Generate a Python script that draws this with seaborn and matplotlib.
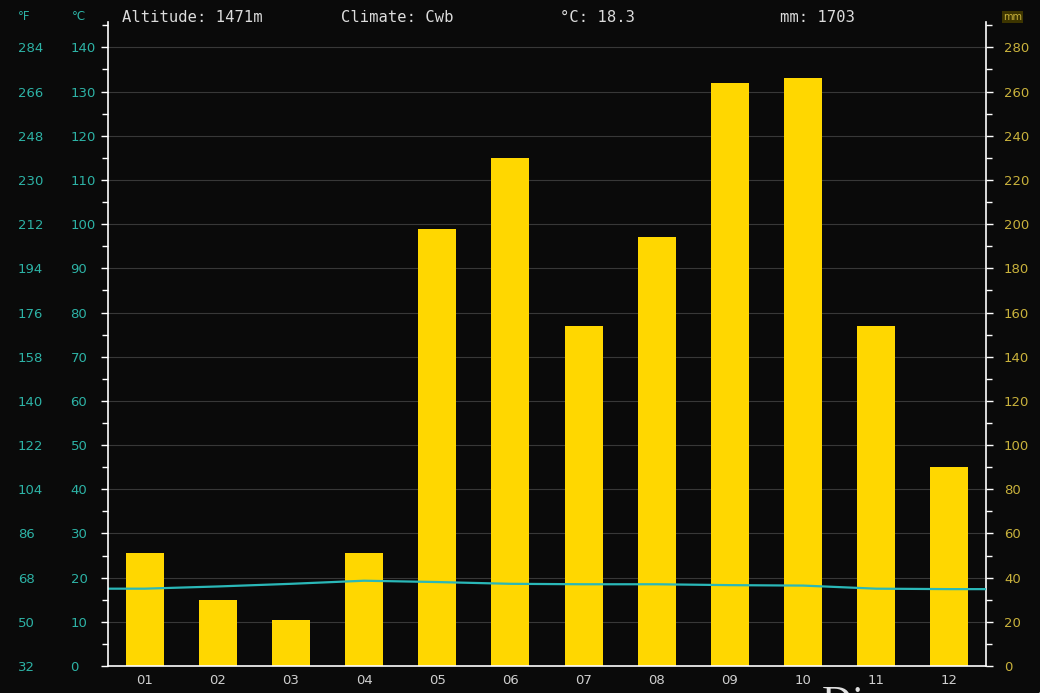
import numpy as np
import pandas as pd
import matplotlib
matplotlib.use("Agg")
import matplotlib.pyplot as plt
from matplotlib.ticker import MultipleLocator
import seaborn as sns

# Datos del climograma
months = ["01", "02", "03", "04", "05", "06", "07", "08", "09", "10", "11", "12"]
precip_mm = [51, 30, 21, 51, 198, 230, 154, 194, 264, 266, 154, 90]
temp_c = [17.5, 18.0, 18.6, 19.3, 19.0, 18.6, 18.5, 18.5, 18.3, 18.2, 17.5, 17.4]
header = ["Altitude: 1471m", "Climate: Cwb", "°C: 18.3", "mm: 1703"]
header_x = [122, 341, 560, 780]
footer = "Diagramma 46"

bg = "#0a0a0a"
teal = "#2db3a6"
gold_lbl = "#c9b23c"
bar_col = "#ffd700"
line_col = "#2ab8b8"
grid_col = "#383838"

sns.set_style("dark")
plt.rcParams["font.family"] = ["DejaVu Sans"]

df = pd.DataFrame({"month": months, "mm": precip_mm, "temp": temp_c})

fig = plt.figure(figsize=(10.4, 6.93), dpi=100, facecolor=bg)
ax = fig.add_axes([108 / 1040, 1 - 666 / 693, (986 - 108) / 1040, (666 - 22) / 693])
ax.set_facecolor(bg)

# barras de precipitación (eje mm, a la derecha)
sns.barplot(data=df, x="month", y="mm", color=bar_col, width=0.52,
            saturation=1, linewidth=0, edgecolor="none", ax=ax, zorder=2)
ax.set_xlim(-0.5, len(months) - 0.5)
ax.set_ylim(0, 291.5)
ax.grid(axis="y", which="major", color=grid_col, lw=0.8)
ax.grid(axis="x", visible=False)
ax.set_axisbelow(True)
ax.set_xlabel("")
ax.set_ylabel("")

# ticks del eje x: marcas en los límites, etiquetas en el centro
ax.set_xticks(np.arange(-0.5, len(months), 1))
ax.set_xticklabels([])
ax.set_xticks(np.arange(len(months)), minor=True)
ax.set_xticklabels(months, minor=True)
ax.tick_params(axis="x", which="major", colors="white", length=4, width=1)
ax.tick_params(axis="x", which="minor", length=0, labelcolor="#cfcfcf",
               labelsize=9.5, pad=6)

# temperatura (eje °C, a la izquierda)
axc = ax.twinx()
axc.yaxis.tick_left()
axc.set_ylim(0, 145.75)

# twinx mueve los ticks del eje original: volver a ponerlos a la derecha
ax.yaxis.tick_right()
ax.yaxis.set_major_locator(MultipleLocator(20))
ax.yaxis.set_minor_locator(MultipleLocator(10))
ax.tick_params(axis="y", which="major", colors="white", length=5, width=1,
               labelcolor=gold_lbl, labelsize=9.5, pad=8)
ax.tick_params(axis="y", which="minor", colors="white", length=4, width=1)
for s in ["left", "top"]:
    ax.spines[s].set_visible(False)
for s in ["right", "bottom"]:
    ax.spines[s].set_color("white")
    ax.spines[s].set_linewidth(1.2)

x0, x1 = ax.get_xlim()
line_x = [x0] + list(range(len(months))) + [x1]
line_y = [temp_c[0]] + temp_c + [temp_c[-1]]
sns.lineplot(x=line_x, y=line_y, color=line_col, lw=1.6, ax=axc)
axc.yaxis.set_major_locator(MultipleLocator(10))
axc.yaxis.set_minor_locator(MultipleLocator(5))
axc.tick_params(axis="y", which="major", colors="white", length=5, width=1,
                labelcolor=teal, labelsize=9.5, pad=22)
axc.tick_params(axis="y", which="minor", colors="white", length=4, width=1)
for lbl in axc.get_yticklabels():
    lbl.set_horizontalalignment("left")
for s in ["right", "top", "bottom"]:
    axc.spines[s].set_visible(False)
axc.spines["left"].set_color("white")
axc.spines["left"].set_linewidth(1.2)
axc.grid(False)
axc.set_ylabel("")

# °F como eje secundario
axf = axc.secondary_yaxis("left", functions=(lambda c: c * 9 / 5 + 32,
                                             lambda f: (f - 32) * 5 / 9))
axf.set_yticks(np.arange(32, 285, 18))
axf.tick_params(axis="y", length=0, labelcolor=teal, labelsize=9.5, pad=65)
for lbl in axf.get_yticklabels():
    lbl.set_horizontalalignment("left")
axf.spines["left"].set_visible(False)

# cabecera
for txt, xp in zip(header, header_x):
    fig.text(xp / 1040, 1 - 17 / 693, txt, color="#dcdcdc", fontsize=11.2,
             family="DejaVu Sans Mono", va="center", ha="left")
fig.text(18 / 1040, 1 - 17 / 693, "°F", color=teal, fontsize=8.5, va="center")
fig.text(72 / 1040, 1 - 17 / 693, "°C", color=teal, fontsize=8.5, va="center")
fig.text(1003 / 1040, 1 - 17 / 693, "mm", color=gold_lbl, fontsize=7, va="center",
         bbox=dict(facecolor="#3d3500", edgecolor="none", pad=1))

fig.text(822 / 1040, 1 - 686 / 693, footer, color="#e0e0e0", fontsize=30,
         family="Liberation Serif", va="top", ha="left")

fig.savefig("out.png", dpi=100, facecolor=bg)
